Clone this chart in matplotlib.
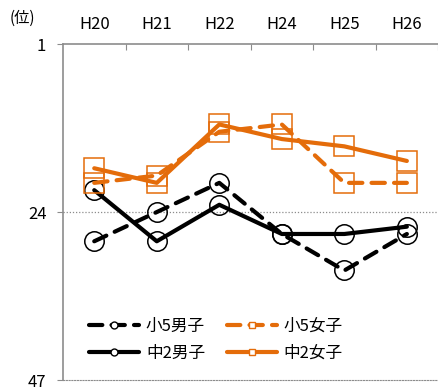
import matplotlib
matplotlib.use("Agg")
import matplotlib.pyplot as plt
from matplotlib.lines import Line2D

plt.rcParams['font.family'] = ['Noto Sans CJK JP', 'DejaVu Sans']

years = ["H20", "H21", "H22", "H24", "H25", "H26"]
sho5_boys = [28, 24, 20, 27, 32, 27]
chu2_boys = [21, 28, 23, 27, 27, 26]
sho5_girls = [20, 19, 13, 12, 20, 20]
chu2_girls = [18, 20, 12, 14, 15, 17]
ytick_vals = [1, 24, 47]

BLACK = "#000000"
ORANGE = "#E46C0A"
GRAY = "#8C8C8C"

fig = plt.figure(figsize=(4.39, 3.87), dpi=100)
ax = fig.add_axes([0.1435, 0.018, 0.8545, 0.868])

x = list(range(len(years)))
dash = (0, (3.2, 2.2))
series = [
    (sho5_boys, BLACK, dash, "o", "小5男子"),
    (chu2_boys, BLACK, "-", "o", "中2男子"),
    (sho5_girls, ORANGE, dash, "s", "小5女子"),
    (chu2_girls, ORANGE, "-", "s", "中2女子"),
]
for vals, col, ls, mk, lab in series:
    ax.plot(x, vals, color=col, linestyle=ls, linewidth=3, marker=mk,
            markersize=14, markerfacecolor="none", markeredgecolor=col,
            markeredgewidth=1.1, dash_capstyle="round", solid_capstyle="round")

ax.set_xlim(-0.5, len(years) - 0.5)
ax.set_ylim(47, 1)

# rank gridline and bottom border
ax.axhline(24, color=GRAY, linestyle=(0, (1, 1.5)), linewidth=0.9, zorder=0)
ax.spines['bottom'].set_linestyle((0, (1, 1.5)))
ax.spines['bottom'].set_color(GRAY)
ax.spines['right'].set_visible(False)
ax.spines['left'].set_color(GRAY)
ax.spines['top'].set_color(GRAY)
ax.spines['left'].set_linewidth(1.2)
ax.spines['top'].set_linewidth(1.2)

ax.set_yticks(ytick_vals)
ax.set_yticklabels([str(v) for v in ytick_vals], fontsize=12)
ax.tick_params(axis='y', length=4, color=GRAY, pad=8, direction='out')

# category labels on top, tick marks between categories
ax.xaxis.set_ticks_position('top')
ax.set_xticks([i + 0.5 for i in range(len(years))])
ax.set_xticklabels([])
ax.tick_params(axis='x', which='major', direction='in', length=4, color=GRAY)
ax.set_xticks(x, minor=True)
ax.set_xticklabels(years, minor=True, fontsize=12)
ax.tick_params(axis='x', which='minor', length=0, pad=8, top=True, labeltop=True,
               bottom=False, labelbottom=False)

fig.text(0.05, 0.953, "(位)", fontsize=11, ha='center', va='center')

handles = []
for vals, col, ls, mk, lab in series:
    handles.append(Line2D([], [], color=col, linestyle=ls, linewidth=3, marker=mk,
                          markersize=5, markerfacecolor="white", markeredgecolor=col,
                          markeredgewidth=1, dash_capstyle="round", solid_capstyle="round"))
labels = [s[4] for s in series]
ax.legend(handles, labels, ncol=2, frameon=False, loc='lower left',
          bbox_to_anchor=(0.03, 0.01), fontsize=12, handlelength=3.0,
          handletextpad=0.4, columnspacing=1.3, labelspacing=0.6)

fig.savefig("out.png", dpi=100)
